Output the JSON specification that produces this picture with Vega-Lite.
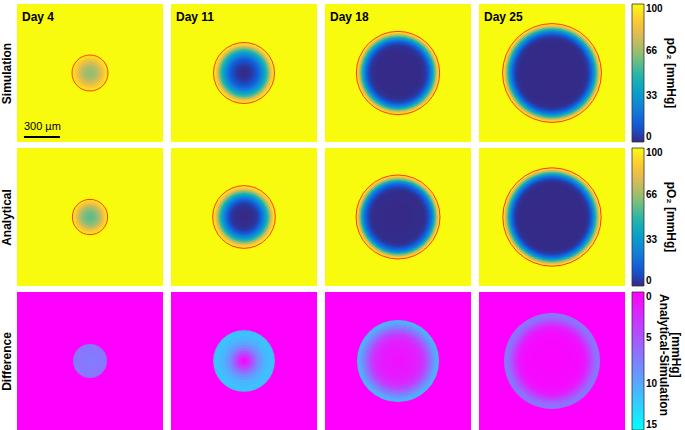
{
"$schema": "https://vega.github.io/schema/vega-lite/v6.json",
"background": "white",
"padding": {"left": 0, "top": 4, "right": 0, "bottom": 0},
"config": {"view": {"stroke": null}, "font": "Liberation Sans", "title": {"color": "black"}},
"datasets": {
"rings": [
{"p":"S4","r":1000,"v":100},{"p":"S4","r":150,"v":97},{"p":"S4","r":140,"v":93},{"p":"S4","r":128,"v":89},{"p":"S4","r":116,"v":85},{"p":"S4","r":104,"v":81},{"p":"S4","r":92,"v":77},{"p":"S4","r":80,"v":74},{"p":"S4","r":68,"v":71},{"p":"S4","r":56,"v":69},{"p":"S4","r":44,"v":67},{"p":"S4","r":32,"v":66},{"p":"S4","r":18,"v":65},
{"p":"S11","r":1000,"v":100},{"p":"S11","r":254,"v":97},{"p":"S11","r":245,"v":93},{"p":"S11","r":236,"v":87},{"p":"S11","r":227,"v":79},{"p":"S11","r":218,"v":70},{"p":"S11","r":209,"v":61},{"p":"S11","r":200,"v":53},{"p":"S11","r":190,"v":46},{"p":"S11","r":180,"v":40},{"p":"S11","r":170,"v":35},{"p":"S11","r":160,"v":30},{"p":"S11","r":150,"v":25},{"p":"S11","r":140,"v":21},{"p":"S11","r":130,"v":17},{"p":"S11","r":120,"v":14},{"p":"S11","r":110,"v":11},{"p":"S11","r":100,"v":9},{"p":"S11","r":88,"v":7},{"p":"S11","r":76,"v":5},{"p":"S11","r":64,"v":3},{"p":"S11","r":50,"v":2},{"p":"S11","r":35,"v":1},{"p":"S11","r":18,"v":0.5},
{"p":"S18","r":1000,"v":100},{"p":"S18","r":347,"v":97},{"p":"S18","r":341,"v":93},{"p":"S18","r":335,"v":87},{"p":"S18","r":329,"v":80},{"p":"S18","r":323,"v":72},{"p":"S18","r":317,"v":64},{"p":"S18","r":311,"v":56},{"p":"S18","r":305,"v":49},{"p":"S18","r":299,"v":43},{"p":"S18","r":293,"v":37},{"p":"S18","r":287,"v":31},{"p":"S18","r":281,"v":26},{"p":"S18","r":275,"v":21},{"p":"S18","r":268,"v":17},{"p":"S18","r":261,"v":13},{"p":"S18","r":254,"v":10},{"p":"S18","r":247,"v":7},{"p":"S18","r":240,"v":5},{"p":"S18","r":232,"v":3},{"p":"S18","r":222,"v":2},{"p":"S18","r":210,"v":1},{"p":"S18","r":190,"v":0.3},{"p":"S18","r":120,"v":0},
{"p":"S25","r":1000,"v":100},{"p":"S25","r":412,"v":97},{"p":"S25","r":406,"v":93},{"p":"S25","r":400,"v":87},{"p":"S25","r":394,"v":80},{"p":"S25","r":388,"v":72},{"p":"S25","r":382,"v":64},{"p":"S25","r":376,"v":56},{"p":"S25","r":370,"v":49},{"p":"S25","r":364,"v":42},{"p":"S25","r":358,"v":36},{"p":"S25","r":352,"v":30},{"p":"S25","r":346,"v":25},{"p":"S25","r":340,"v":20},{"p":"S25","r":333,"v":16},{"p":"S25","r":326,"v":12},{"p":"S25","r":319,"v":9},{"p":"S25","r":312,"v":6},{"p":"S25","r":305,"v":4},{"p":"S25","r":296,"v":2},{"p":"S25","r":285,"v":1},{"p":"S25","r":265,"v":0.3},{"p":"S25","r":150,"v":0},
{"p":"A4","r":1000,"v":100},{"p":"A4","r":147,"v":96},{"p":"A4","r":137,"v":91},{"p":"A4","r":125,"v":86},{"p":"A4","r":113,"v":80},{"p":"A4","r":101,"v":75},{"p":"A4","r":89,"v":70},{"p":"A4","r":77,"v":66},{"p":"A4","r":65,"v":63},{"p":"A4","r":53,"v":61},{"p":"A4","r":41,"v":59},{"p":"A4","r":29,"v":58},{"p":"A4","r":15,"v":57},
{"p":"A11","r":1000,"v":100},{"p":"A11","r":261,"v":97},{"p":"A11","r":252,"v":93},{"p":"A11","r":243,"v":87},{"p":"A11","r":234,"v":79},{"p":"A11","r":225,"v":70},{"p":"A11","r":216,"v":61},{"p":"A11","r":207,"v":52},{"p":"A11","r":198,"v":44},{"p":"A11","r":188,"v":37},{"p":"A11","r":178,"v":31},{"p":"A11","r":168,"v":25},{"p":"A11","r":158,"v":20},{"p":"A11","r":148,"v":15},{"p":"A11","r":138,"v":11},{"p":"A11","r":128,"v":8},{"p":"A11","r":118,"v":5},{"p":"A11","r":108,"v":3},{"p":"A11","r":95,"v":2},{"p":"A11","r":80,"v":1},{"p":"A11","r":60,"v":0.5},{"p":"A11","r":35,"v":0},
{"p":"A18","r":1000,"v":100},{"p":"A18","r":350,"v":97},{"p":"A18","r":345,"v":93},{"p":"A18","r":339,"v":87},{"p":"A18","r":333,"v":80},{"p":"A18","r":327,"v":72},{"p":"A18","r":321,"v":63},{"p":"A18","r":315,"v":55},{"p":"A18","r":309,"v":47},{"p":"A18","r":303,"v":40},{"p":"A18","r":297,"v":33},{"p":"A18","r":291,"v":27},{"p":"A18","r":285,"v":22},{"p":"A18","r":279,"v":18},{"p":"A18","r":272,"v":15},{"p":"A18","r":265,"v":12},{"p":"A18","r":258,"v":9},{"p":"A18","r":250,"v":6},{"p":"A18","r":242,"v":4},{"p":"A18","r":232,"v":2},{"p":"A18","r":215,"v":0.5},{"p":"A18","r":120,"v":0},
{"p":"A25","r":1000,"v":100},{"p":"A25","r":410,"v":97},{"p":"A25","r":404,"v":92},{"p":"A25","r":398,"v":86},{"p":"A25","r":392,"v":79},{"p":"A25","r":386,"v":71},{"p":"A25","r":380,"v":63},{"p":"A25","r":374,"v":55},{"p":"A25","r":368,"v":47},{"p":"A25","r":362,"v":40},{"p":"A25","r":356,"v":33},{"p":"A25","r":350,"v":27},{"p":"A25","r":344,"v":22},{"p":"A25","r":337,"v":17},{"p":"A25","r":330,"v":13},{"p":"A25","r":323,"v":9},{"p":"A25","r":316,"v":6},{"p":"A25","r":308,"v":4},{"p":"A25","r":300,"v":2},{"p":"A25","r":290,"v":1},{"p":"A25","r":275,"v":0.3},{"p":"A25","r":150,"v":0},
{"p":"D4","r":1000,"v":0},{"p":"D4","r":142,"v":7},{"p":"D4","r":100,"v":7},{"p":"D4","r":50,"v":7.3},
{"p":"D11","r":1000,"v":0},{"p":"D11","r":257,"v":11.3},{"p":"D11","r":235,"v":11.3},{"p":"D11","r":210,"v":11},{"p":"D11","r":185,"v":10.5},{"p":"D11","r":160,"v":9.5},{"p":"D11","r":135,"v":8.5},{"p":"D11","r":110,"v":7},{"p":"D11","r":90,"v":5.5},{"p":"D11","r":70,"v":4},{"p":"D11","r":50,"v":2.5},{"p":"D11","r":30,"v":1.2},{"p":"D11","r":15,"v":0.5},
{"p":"D18","r":1000,"v":0},{"p":"D18","r":342,"v":10.5},{"p":"D18","r":325,"v":10},{"p":"D18","r":310,"v":9},{"p":"D18","r":295,"v":8},{"p":"D18","r":280,"v":7},{"p":"D18","r":265,"v":6},{"p":"D18","r":250,"v":5},{"p":"D18","r":235,"v":4},{"p":"D18","r":218,"v":3.2},{"p":"D18","r":200,"v":2.5},{"p":"D18","r":180,"v":2},{"p":"D18","r":150,"v":1.6},{"p":"D18","r":110,"v":1.3},{"p":"D18","r":60,"v":1},
{"p":"D25","r":1000,"v":0},{"p":"D25","r":400,"v":7},{"p":"D25","r":385,"v":6.8},{"p":"D25","r":370,"v":6.3},{"p":"D25","r":355,"v":5.5},{"p":"D25","r":340,"v":4.6},{"p":"D25","r":325,"v":3.7},{"p":"D25","r":310,"v":2.8},{"p":"D25","r":295,"v":2},{"p":"D25","r":280,"v":1.4},{"p":"D25","r":260,"v":0.9},{"p":"D25","r":230,"v":0.6},{"p":"D25","r":180,"v":0.4},{"p":"D25","r":100,"v":0.3}
],
"outline": [
{"p":"S4","r":150},{"p":"S11","r":254},{"p":"S18","r":347},{"p":"S25","r":412},
{"p":"A4","r":147},{"p":"A11","r":261},{"p":"A18","r":350},{"p":"A25","r":410}
],
"scalebar": [{"x0":-550,"x1":-250,"y":-533,"ty":-478,"label":"300 µm"}]
},
"resolve": {"scale": {"color": "independent"}, "legend": {"color": "independent"}},
"spacing": 5,
"vconcat": [
{
"title": {"text": "Simulation", "orient": "left", "anchor": "middle", "fontSize": 12, "fontWeight": "bold", "offset": 3},
"spacing": 8,
"resolve": {"scale": {"color": "shared"}, "legend": {"color": "shared"}},
"hconcat": [
{"width":146,"height":138,"title":{"text":"Day 4","anchor":"start","offset":-20,"dx":5,"fontSize":12,"fontWeight":"bold"},
"layer":[
{"data":{"name":"rings"},"transform":[{"filter":"datum.p == 'S4'"}],"mark":{"type":"arc","theta":0,"theta2":6.2832,"clip":true},
"encoding":{"radius":{"field":"r","type":"quantitative","stack":null,"scale":{"type":"linear","domain":[0,575],"range":[0,69],"zero":true,"nice":false}},
"color":{"field":"v","type":"quantitative","scale":{"domain":[0,100],"range":["#352a87","#0f5cdd","#1481d6","#06a4ca","#2eb7a4","#87bf77","#d1bb59","#fec832","#f9fb0e"],"zero":false,"nice":false,"interpolate":"rgb"},
"legend":{"title":"pO₂ [mmHg]","values":[0,33,66,100],"gradientLength":138,"gradientThickness":12,"gradientStrokeColor":"#333","gradientStrokeWidth":0.8,"labelFontSize":10,"labelFontWeight":"bold","labelColor":"black","labelOffset":2,"titleOrient":"right","titleAngle":270,"titleAnchor":"middle","titleFontSize":12,"titleFontWeight":"bold","titleColor":"black","titlePadding":1,"offset":7,"padding":0}}}},
{"data":{"name":"outline"},"transform":[{"filter":"datum.p == 'S4'"}],"mark":{"type":"arc","filled":false,"color":"#ff3a00","strokeWidth":1,"theta":0,"theta2":6.2832},
"encoding":{"radius":{"field":"r","type":"quantitative","stack":null,"scale":{"type":"linear","domain":[0,575],"range":[0,69],"zero":true,"nice":false}}}},
{"data":{"name":"scalebar"},"mark":{"type":"rule","color":"black","strokeWidth":2},
"encoding":{"x":{"field":"x0","type":"quantitative","scale":{"domain":[-608,608],"nice":false,"zero":false},"axis":null},"x2":{"field":"x1"},
"y":{"field":"y","type":"quantitative","scale":{"domain":[-575,575],"nice":false,"zero":false},"axis":null}}},
{"data":{"name":"scalebar"},"mark":{"type":"text","align":"left","baseline":"alphabetic","fontSize":11,"color":"black"},
"encoding":{"x":{"field":"x0","type":"quantitative","scale":{"domain":[-608,608],"nice":false,"zero":false},"axis":null},
"y":{"field":"ty","type":"quantitative","scale":{"domain":[-575,575],"nice":false,"zero":false},"axis":null},"text":{"field":"label"}}}
]},
{"width":146,"height":138,"title":{"text":"Day 11","anchor":"start","offset":-20,"dx":5,"fontSize":12,"fontWeight":"bold"},
"layer":[
{"data":{"name":"rings"},"transform":[{"filter":"datum.p == 'S11'"}],"mark":{"type":"arc","theta":0,"theta2":6.2832,"clip":true},
"encoding":{"radius":{"field":"r","type":"quantitative","stack":null,"scale":{"type":"linear","domain":[0,575],"range":[0,69],"zero":true,"nice":false}},
"color":{"field":"v","type":"quantitative","scale":{"domain":[0,100],"range":["#352a87","#0f5cdd","#1481d6","#06a4ca","#2eb7a4","#87bf77","#d1bb59","#fec832","#f9fb0e"],"zero":false,"nice":false,"interpolate":"rgb"}}}},
{"data":{"name":"outline"},"transform":[{"filter":"datum.p == 'S11'"}],"mark":{"type":"arc","filled":false,"color":"#ff3a00","strokeWidth":1,"theta":0,"theta2":6.2832},
"encoding":{"radius":{"field":"r","type":"quantitative","stack":null,"scale":{"type":"linear","domain":[0,575],"range":[0,69],"zero":true,"nice":false}}}}
]},
{"width":146,"height":138,"title":{"text":"Day 18","anchor":"start","offset":-20,"dx":5,"fontSize":12,"fontWeight":"bold"},
"layer":[
{"data":{"name":"rings"},"transform":[{"filter":"datum.p == 'S18'"}],"mark":{"type":"arc","theta":0,"theta2":6.2832,"clip":true},
"encoding":{"radius":{"field":"r","type":"quantitative","stack":null,"scale":{"type":"linear","domain":[0,575],"range":[0,69],"zero":true,"nice":false}},
"color":{"field":"v","type":"quantitative","scale":{"domain":[0,100],"range":["#352a87","#0f5cdd","#1481d6","#06a4ca","#2eb7a4","#87bf77","#d1bb59","#fec832","#f9fb0e"],"zero":false,"nice":false,"interpolate":"rgb"}}}},
{"data":{"name":"outline"},"transform":[{"filter":"datum.p == 'S18'"}],"mark":{"type":"arc","filled":false,"color":"#ff3a00","strokeWidth":1,"theta":0,"theta2":6.2832},
"encoding":{"radius":{"field":"r","type":"quantitative","stack":null,"scale":{"type":"linear","domain":[0,575],"range":[0,69],"zero":true,"nice":false}}}}
]},
{"width":146,"height":138,"title":{"text":"Day 25","anchor":"start","offset":-20,"dx":5,"fontSize":12,"fontWeight":"bold"},
"layer":[
{"data":{"name":"rings"},"transform":[{"filter":"datum.p == 'S25'"}],"mark":{"type":"arc","theta":0,"theta2":6.2832,"clip":true},
"encoding":{"radius":{"field":"r","type":"quantitative","stack":null,"scale":{"type":"linear","domain":[0,575],"range":[0,69],"zero":true,"nice":false}},
"color":{"field":"v","type":"quantitative","scale":{"domain":[0,100],"range":["#352a87","#0f5cdd","#1481d6","#06a4ca","#2eb7a4","#87bf77","#d1bb59","#fec832","#f9fb0e"],"zero":false,"nice":false,"interpolate":"rgb"}}}},
{"data":{"name":"outline"},"transform":[{"filter":"datum.p == 'S25'"}],"mark":{"type":"arc","filled":false,"color":"#ff3a00","strokeWidth":1,"theta":0,"theta2":6.2832},
"encoding":{"radius":{"field":"r","type":"quantitative","stack":null,"scale":{"type":"linear","domain":[0,575],"range":[0,69],"zero":true,"nice":false}}}}
]}
]
},
{
"title": {"text": "Analytical", "orient": "left", "anchor": "middle", "fontSize": 12, "fontWeight": "bold", "offset": 3},
"spacing": 8,
"resolve": {"scale": {"color": "shared"}, "legend": {"color": "shared"}},
"hconcat": [
{"width":146,"height":138,
"layer":[
{"data":{"name":"rings"},"transform":[{"filter":"datum.p == 'A4'"}],"mark":{"type":"arc","theta":0,"theta2":6.2832,"clip":true},
"encoding":{"radius":{"field":"r","type":"quantitative","stack":null,"scale":{"type":"linear","domain":[0,575],"range":[0,69],"zero":true,"nice":false}},
"color":{"field":"v","type":"quantitative","scale":{"domain":[0,100],"range":["#352a87","#0f5cdd","#1481d6","#06a4ca","#2eb7a4","#87bf77","#d1bb59","#fec832","#f9fb0e"],"zero":false,"nice":false,"interpolate":"rgb"},
"legend":{"title":"pO₂ [mmHg]","values":[0,33,66,100],"gradientLength":138,"gradientThickness":12,"gradientStrokeColor":"#333","gradientStrokeWidth":0.8,"labelFontSize":10,"labelFontWeight":"bold","labelColor":"black","labelOffset":2,"titleOrient":"right","titleAngle":270,"titleAnchor":"middle","titleFontSize":12,"titleFontWeight":"bold","titleColor":"black","titlePadding":1,"offset":7,"padding":0}}}},
{"data":{"name":"outline"},"transform":[{"filter":"datum.p == 'A4'"}],"mark":{"type":"arc","filled":false,"color":"#ff3a00","strokeWidth":1,"theta":0,"theta2":6.2832},
"encoding":{"radius":{"field":"r","type":"quantitative","stack":null,"scale":{"type":"linear","domain":[0,575],"range":[0,69],"zero":true,"nice":false}}}}
]},
{"width":146,"height":138,
"layer":[
{"data":{"name":"rings"},"transform":[{"filter":"datum.p == 'A11'"}],"mark":{"type":"arc","theta":0,"theta2":6.2832,"clip":true},
"encoding":{"radius":{"field":"r","type":"quantitative","stack":null,"scale":{"type":"linear","domain":[0,575],"range":[0,69],"zero":true,"nice":false}},
"color":{"field":"v","type":"quantitative","scale":{"domain":[0,100],"range":["#352a87","#0f5cdd","#1481d6","#06a4ca","#2eb7a4","#87bf77","#d1bb59","#fec832","#f9fb0e"],"zero":false,"nice":false,"interpolate":"rgb"}}}},
{"data":{"name":"outline"},"transform":[{"filter":"datum.p == 'A11'"}],"mark":{"type":"arc","filled":false,"color":"#ff3a00","strokeWidth":1,"theta":0,"theta2":6.2832},
"encoding":{"radius":{"field":"r","type":"quantitative","stack":null,"scale":{"type":"linear","domain":[0,575],"range":[0,69],"zero":true,"nice":false}}}}
]},
{"width":146,"height":138,
"layer":[
{"data":{"name":"rings"},"transform":[{"filter":"datum.p == 'A18'"}],"mark":{"type":"arc","theta":0,"theta2":6.2832,"clip":true},
"encoding":{"radius":{"field":"r","type":"quantitative","stack":null,"scale":{"type":"linear","domain":[0,575],"range":[0,69],"zero":true,"nice":false}},
"color":{"field":"v","type":"quantitative","scale":{"domain":[0,100],"range":["#352a87","#0f5cdd","#1481d6","#06a4ca","#2eb7a4","#87bf77","#d1bb59","#fec832","#f9fb0e"],"zero":false,"nice":false,"interpolate":"rgb"}}}},
{"data":{"name":"outline"},"transform":[{"filter":"datum.p == 'A18'"}],"mark":{"type":"arc","filled":false,"color":"#ff3a00","strokeWidth":1,"theta":0,"theta2":6.2832},
"encoding":{"radius":{"field":"r","type":"quantitative","stack":null,"scale":{"type":"linear","domain":[0,575],"range":[0,69],"zero":true,"nice":false}}}}
]},
{"width":146,"height":138,
"layer":[
{"data":{"name":"rings"},"transform":[{"filter":"datum.p == 'A25'"}],"mark":{"type":"arc","theta":0,"theta2":6.2832,"clip":true},
"encoding":{"radius":{"field":"r","type":"quantitative","stack":null,"scale":{"type":"linear","domain":[0,575],"range":[0,69],"zero":true,"nice":false}},
"color":{"field":"v","type":"quantitative","scale":{"domain":[0,100],"range":["#352a87","#0f5cdd","#1481d6","#06a4ca","#2eb7a4","#87bf77","#d1bb59","#fec832","#f9fb0e"],"zero":false,"nice":false,"interpolate":"rgb"}}}},
{"data":{"name":"outline"},"transform":[{"filter":"datum.p == 'A25'"}],"mark":{"type":"arc","filled":false,"color":"#ff3a00","strokeWidth":1,"theta":0,"theta2":6.2832},
"encoding":{"radius":{"field":"r","type":"quantitative","stack":null,"scale":{"type":"linear","domain":[0,575],"range":[0,69],"zero":true,"nice":false}}}}
]}
]
},
{
"title": {"text": "Difference", "orient": "left", "anchor": "middle", "fontSize": 12, "fontWeight": "bold", "offset": 3},
"spacing": 8,
"resolve": {"scale": {"color": "shared"}, "legend": {"color": "shared"}},
"hconcat": [
{"width":146,"height":138,
"data":{"name":"rings"},"transform":[{"filter":"datum.p == 'D4'"}],"mark":{"type":"arc","theta":0,"theta2":6.2832,"clip":true},
"encoding":{"radius":{"field":"r","type":"quantitative","stack":null,"scale":{"type":"linear","domain":[0,575],"range":[0,69],"zero":true,"nice":false}},
"color":{"field":"v","type":"quantitative","scale":{"domain":[15,0],"range":["#00ffff","#ff00ff"],"zero":false,"nice":false,"interpolate":"rgb"},
"legend":{"title":["[mmHg]","Analytical-Simulation"],"values":[0,5,10,15],"gradientLength":138,"gradientThickness":12,"gradientStrokeColor":"#333","gradientStrokeWidth":0.8,"labelFontSize":10,"labelFontWeight":"bold","labelColor":"black","labelOffset":2,"titleOrient":"right","titleAngle":270,"titleAnchor":"middle","titleFontSize":12,"titleFontWeight":"bold","titleColor":"black","titlePadding":12,"titleLineHeight":12,"offset":7,"padding":0}}}},
{"width":146,"height":138,
"data":{"name":"rings"},"transform":[{"filter":"datum.p == 'D11'"}],"mark":{"type":"arc","theta":0,"theta2":6.2832,"clip":true},
"encoding":{"radius":{"field":"r","type":"quantitative","stack":null,"scale":{"type":"linear","domain":[0,575],"range":[0,69],"zero":true,"nice":false}},
"color":{"field":"v","type":"quantitative","scale":{"domain":[15,0],"range":["#00ffff","#ff00ff"],"zero":false,"nice":false,"interpolate":"rgb"}}}},
{"width":146,"height":138,
"data":{"name":"rings"},"transform":[{"filter":"datum.p == 'D18'"}],"mark":{"type":"arc","theta":0,"theta2":6.2832,"clip":true},
"encoding":{"radius":{"field":"r","type":"quantitative","stack":null,"scale":{"type":"linear","domain":[0,575],"range":[0,69],"zero":true,"nice":false}},
"color":{"field":"v","type":"quantitative","scale":{"domain":[15,0],"range":["#00ffff","#ff00ff"],"zero":false,"nice":false,"interpolate":"rgb"}}}},
{"width":146,"height":138,
"data":{"name":"rings"},"transform":[{"filter":"datum.p == 'D25'"}],"mark":{"type":"arc","theta":0,"theta2":6.2832,"clip":true},
"encoding":{"radius":{"field":"r","type":"quantitative","stack":null,"scale":{"type":"linear","domain":[0,575],"range":[0,69],"zero":true,"nice":false}},
"color":{"field":"v","type":"quantitative","scale":{"domain":[15,0],"range":["#00ffff","#ff00ff"],"zero":false,"nice":false,"interpolate":"rgb"}}}}
]
}
]
}
